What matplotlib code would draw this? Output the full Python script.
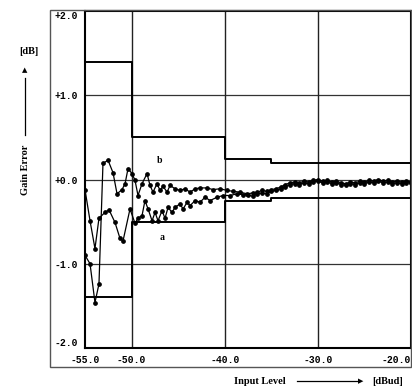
import matplotlib.pyplot as plt
from matplotlib.patches import Rectangle

# data
b_x = [-55.0, -54.46, -53.93, -53.5, -53.07, -52.53, -51.99, -51.56, -51.03, -50.7,
       -50.38, -49.95, -49.63, -49.31, -48.88, -48.34, -48.02, -47.7, -47.27, -46.94,
       -46.62, -46.19, -45.87, -45.33, -44.8, -44.26, -43.72, -43.18, -42.65, -41.9,
       -41.25, -40.5, -39.75, -39.1, -38.35, -37.6]
b_y = [-0.90, -1.00, -1.46, -1.24, 0.19, 0.23, 0.08, -0.17, -0.12, -0.05,
       0.13, 0.07, -0.01, -0.19, -0.05, 0.07, -0.07, -0.15, -0.05, -0.13,
       -0.08, -0.15, -0.07, -0.11, -0.13, -0.11, -0.15, -0.11, -0.10, -0.10,
       -0.12, -0.11, -0.13, -0.14, -0.15, -0.17]

a_x = [-55.0, -54.46, -53.93, -53.5, -52.85, -52.42, -51.78, -51.24, -50.92, -50.17,
       -49.63, -49.31, -48.88, -48.56, -48.23, -47.8, -47.48, -47.16, -46.73, -46.41,
       -46.08, -45.66, -45.33, -44.8, -44.47, -44.04, -43.72, -43.18, -42.65, -42.11,
       -41.57, -40.82, -40.18, -39.43, -38.67, -38.03, -37.5]
a_y = [-0.12, -0.49, -0.82, -0.46, -0.39, -0.36, -0.51, -0.70, -0.73, -0.35,
       -0.52, -0.46, -0.43, -0.25, -0.35, -0.49, -0.39, -0.49, -0.37, -0.46,
       -0.33, -0.39, -0.33, -0.29, -0.35, -0.27, -0.31, -0.25, -0.27, -0.21,
       -0.25, -0.21, -0.19, -0.19, -0.17, -0.18, -0.18]

tail_x = [-37.0, -36.5, -36.0, -35.5, -35.0, -34.5, -34.0, -33.5, -33.0, -32.5,
          -32.0, -31.5, -31.0, -30.5, -30.0, -29.5, -29.0, -28.5, -28.0, -27.5,
          -27.0, -26.5, -26.0, -25.5, -25.0, -24.5, -24.0, -23.5, -23.0, -22.5,
          -22.0, -21.5, -21.0, -20.5, -20.0]
b_tail = [-0.16, -0.15, -0.13, -0.14, -0.12, -0.11, -0.09, -0.06, -0.04, -0.03,
          -0.04, -0.02, -0.03, -0.01, 0.00, -0.02, -0.01, -0.03, -0.02, -0.04,
          -0.05, -0.03, -0.04, -0.02, -0.03, -0.01, -0.02, 0.00, -0.02, -0.01,
          -0.03, -0.02, -0.03, -0.02, -0.03]
a_tail = [-0.20, -0.17, -0.16, -0.17, -0.14, -0.13, -0.11, -0.09, -0.06, -0.05,
          -0.06, -0.04, -0.05, -0.03, -0.02, -0.04, -0.03, -0.05, -0.04, -0.06,
          -0.07, -0.05, -0.06, -0.04, -0.05, -0.03, -0.04, -0.02, -0.04, -0.03,
          -0.05, -0.04, -0.05, -0.04, -0.04]

# tolerance limits
lim_x = [-55, -50, -40, -35, -20]
upper_lim = [1.4, 0.5, 0.24, 0.19, 0.19]
lower_lim = [-1.4, -0.5, -0.26, -0.22, -0.22]

x_ticks = [-55, -50, -40, -30, -20]
x_labels = ['-55.0', '-50.0', '-40.0', '-30.0', '-20.0']
y_ticks = [2, 1, 0, -1, -2]
y_labels = ['+2.0', '+1.0', '+0.0', '-1.0', '-2.0']

W, H = 412, 392
fig = plt.figure(figsize=(W / 100, H / 100), dpi=100)
ax = fig.add_axes([85 / W, 1 - 348 / H, 326 / W, 337 / H])

# outer frame around the chart and tick labels
fig.patches.append(Rectangle((50 / W, 1 - 367 / H), 361 / W, 357 / H,
                             transform=fig.transFigure, fill=False,
                             edgecolor='#555555', linewidth=1.0))

for yv in [1, 0, -1]:
    ax.axhline(yv, color='#333333', linewidth=0.9, zorder=1)
for xv in [-50, -40, -30]:
    ax.axvline(xv, color='#222222', linewidth=1.0, zorder=1)

ax.plot(lim_x, upper_lim, drawstyle='steps-post', color='black', linewidth=1.4, zorder=2)
ax.plot(lim_x, lower_lim, drawstyle='steps-post', color='black', linewidth=1.4, zorder=2)

ax.plot(b_x + tail_x, b_y + b_tail, color='black', linewidth=0.9,
        marker='o', markersize=2.4, zorder=3)
ax.plot(a_x + tail_x, a_y + a_tail, color='black', linewidth=0.9,
        marker='o', markersize=2.4, zorder=3)

ax.text(-47.3, 0.2, 'b', fontsize=7, family='Liberation Serif', weight='bold')
ax.text(-47.0, -0.72, 'a', fontsize=7, family='Liberation Serif', weight='bold')

ax.set_xlim(-55, -20)
ax.set_ylim(-2, 2)
for s in ax.spines.values():
    s.set_linewidth(1.5)

tick_font = dict(family='Liberation Mono', weight='bold', size=7)
ax.set_xticks(x_ticks)
ax.set_xticklabels(x_labels, **tick_font)
ax.set_yticks(y_ticks)
ax.set_yticklabels(y_labels, **tick_font)
ax.tick_params(length=0, pad=5)
ax.get_xticklabels()[-1].set_ha('right')
ax.get_yticklabels()[0].set_va('top')
ax.get_yticklabels()[-1].set_va('bottom')

lab_font = dict(family='Liberation Serif', weight='bold', size=7.5)
# y label with arrow
fig.text(25 / W, 1 - 170 / H, 'Gain Error', rotation=90, ha='center', va='center', **lab_font)
fig.text(29 / W, 1 - 52 / H, '[dB]', ha='center', va='center', **lab_font)
fig.add_artist(plt.Line2D([25 / W, 25 / W], [1 - 135 / H, 1 - 78 / H], color='black', linewidth=0.9))
fig.text(25 / W, 1 - 70 / H, '\u25B2', ha='center', va='center', fontsize=5, family='DejaVu Sans')

# x label with arrow
fig.text(260 / W, 1 - 381 / H, 'Input Level', ha='center', va='center', **lab_font)
fig.add_artist(plt.Line2D([297 / W, 358 / W], [1 - 381 / H, 1 - 381 / H], color='black', linewidth=0.9))
fig.text(361 / W, 1 - 381 / H, '\u25B6', ha='center', va='center', fontsize=5, family='DejaVu Sans')
fig.text(388 / W, 1 - 381 / H, '[dBud]', ha='center', va='center', **lab_font)

fig.savefig('out.png', dpi=100)
